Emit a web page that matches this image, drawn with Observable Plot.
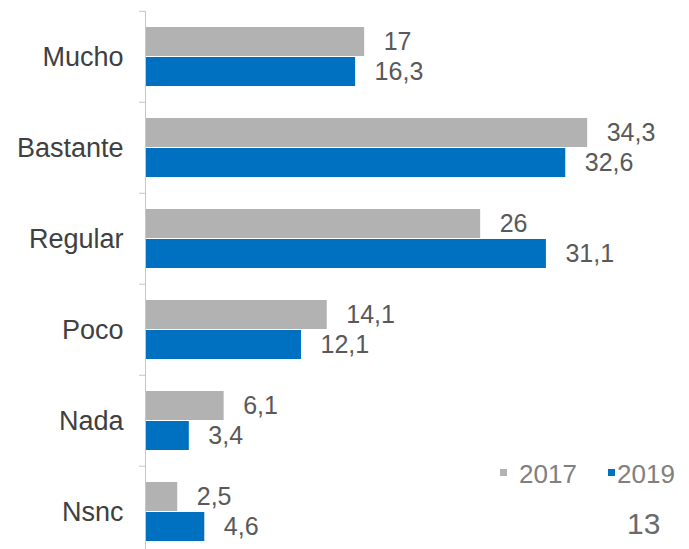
<!DOCTYPE html>
<html><head><meta charset="utf-8">
<script src="https://cdn.jsdelivr.net/npm/d3@7"></script>
<script src="https://cdn.jsdelivr.net/npm/@observablehq/plot@0.6"></script>
<style>
html,body{margin:0;padding:0;background:#fff;overflow:hidden;}
#wrap{position:relative;width:689px;height:549px;overflow:hidden;font-family:"Liberation Sans",Arial,sans-serif;}
.lg{position:absolute;font-size:26px;color:#808080;line-height:1;white-space:nowrap;}
.sw{position:absolute;width:7px;height:7px;}
.pn{position:absolute;font-size:30px;color:#6a6a6a;line-height:1;}
</style></head><body><div id="wrap"></div>
<script>
const categories = ["Mucho", "Bastante", "Regular", "Poco", "Nada", "Nsnc"];
const years = ["2017", "2019"];
const values2017 = [17, 34.3, 26, 14.1, 6.1, 2.5];
const values2019 = [16.3, 32.6, 31.1, 12.1, 3.4, 4.6];
const colors = ["#b2b2b2", "#0070c0"];
const pageNumber = "13";

const data = categories.flatMap((c, i) => [
  {cat: c, year: years[0], value: values2017[i]},
  {cat: c, year: years[1], value: values2019[i]}
]);
const fmt = d => String(d.value).replace(".", ",");

const H = 560, MT = 9, MB = 2;
const step = (H - MT - MB) / categories.length;

const plot = Plot.plot({
  width: 689, height: H,
  marginTop: MT, marginBottom: MB, marginLeft: 145, marginRight: 0,
  style: {fontFamily: "'Liberation Sans', Arial, sans-serif", background: "white", overflow: "visible"},
  x: {domain: [0, 42.2], axis: null},
  fy: {domain: categories, padding: 0, label: null},
  y: {domain: years, paddingInner: 0.03, paddingOuter: 0.525, axis: null},
  color: {domain: years, range: colors},
  marks: [
    Plot.barX(data, {fy: "cat", y: "year", x: "value", fill: "year"}),
    Plot.text(data, {fy: "cat", y: "year", x: "value", text: fmt, textAnchor: "start", dx: 19, fill: "#595959", fontSize: 25}),
    Plot.ruleX([0], {stroke: "#c6c6c6", strokeWidth: 1}),
    Plot.axisFy({anchor: "left", tickSize: 0, tickPadding: 22, fontSize: 27, fill: "#404040", label: null}),
    Plot.axisFy({anchor: "left", text: null, tickSize: 6, stroke: "#c6c6c6", dy: -step / 2, label: null})
  ]
});
const wrap = document.getElementById("wrap");
wrap.appendChild(plot);

// legend
const legendPos = [{x: 500, tx: 519}, {x: 608, tx: 617}];
years.forEach((y, i) => {
  const sw = document.createElement("div");
  sw.className = "sw";
  sw.style.left = legendPos[i].x + "px";
  sw.style.top = "469px";
  sw.style.background = colors[i];
  wrap.appendChild(sw);
  const t = document.createElement("div");
  t.className = "lg";
  t.style.left = legendPos[i].tx + "px";
  t.style.top = "461px";
  t.textContent = y;
  wrap.appendChild(t);
});
const pn = document.createElement("div");
pn.className = "pn";
pn.style.left = "627px";
pn.style.top = "509px";
pn.textContent = pageNumber;
wrap.appendChild(pn);
</script>
</body></html>
